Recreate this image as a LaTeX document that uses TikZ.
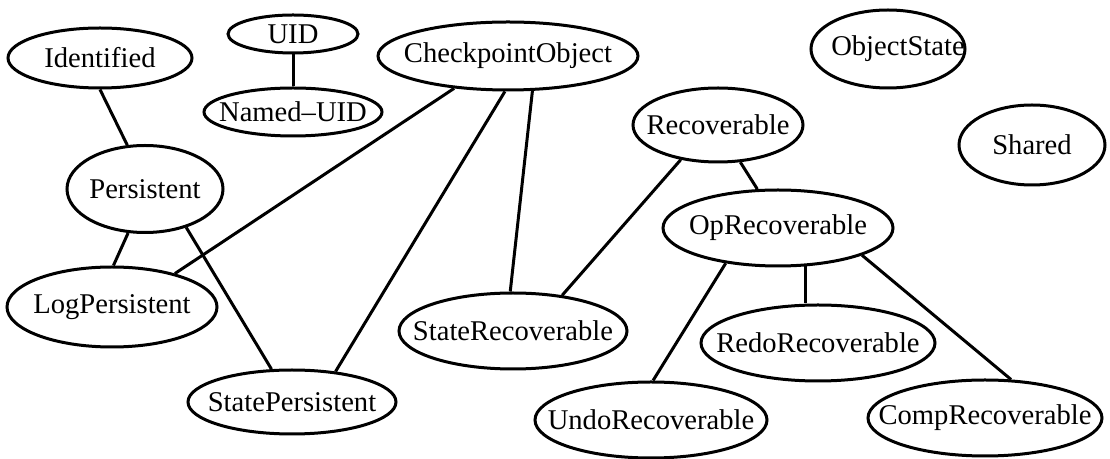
\documentclass[tikz,border=0pt]{standalone}
\usepackage{fontspec}
\setmainfont{Liberation Serif}
\usetikzlibrary{shapes.geometric}
\newcommand{\lbl}[1]{\makebox[0pt]{#1}}
\tikzset{
  cls/.style 2 args={ellipse, draw, line width=1.5pt, inner sep=0pt,
    minimum width=#1*0.5pt, minimum height=#2*0.5pt,
    font=\fontsize{14.3}{16}\selectfont},
  link/.style={line width=1.5pt}
}
\begin{document}
\begin{tikzpicture}[x=0.5pt, y=-0.5pt]
\useasboundingbox (0,0) rectangle (1110,459);
% classes
\node[cls={184}{60}]  (ident)  at (100,58)  {\lbl{Identified}};
\node[cls={130}{38}]  (uid)    at (293,34)  {\lbl{UID}};
\node[cls={178}{48}]  (nuid)   at (293,112) {\lbl{Named--UID}};
\node[cls={260}{68}]  (ckpt)   at (508,56)  {\lbl{CheckpointObject}};
\node[cls={154}{78}]  (ostate) at (888,49)  {\lbl{\hspace*{10pt}ObjectState}};
\node[cls={146}{80}]  (shared) at (1032,145) {\lbl{Shared}};
\node[cls={156}{87}]  (pers)   at (145,189) {\lbl{Persistent}};
\node[cls={210}{80}]  (logp)   at (112,307) {\lbl{LogPersistent}};
\node[cls={208}{64}]  (statep) at (292,402) {\lbl{StatePersistent}};
\node[cls={170}{74}]  (rec)    at (718,125) {\lbl{Recoverable}};
\node[cls={230}{76}]  (oprec)  at (778,228) {\lbl{OpRecoverable}};
\node[cls={228}{76}]  (staterec) at (513,331) {\lbl{StateRecoverable}};
\node[cls={234}{76}]  (redo)   at (818,343) {\lbl{RedoRecoverable}};
\node[cls={232}{76}]  (undo)   at (651,420) {\lbl{UndoRecoverable}};
\node[cls={234}{76}]  (comp)   at (985,418) {\lbl{CompRecoverable}};
% relations
\draw[link] (uid.south) -- (nuid.north);
\draw[link] (ident.-90) -- (pers.112);
\draw[link] (ckpt.-149.6) -- (logp.28.4);
\draw[link] (ckpt.-95) -- (statep.35.3);
\draw[link] (ckpt.-55.9) -- (staterec.94.5);
\draw[link] (pers.-111.3) -- (logp.88.5);
\draw[link] (pers.-43.9) -- (statep.122.3);
\draw[link] (rec.-137.2) -- (staterec.36.3);
\draw[link] (rec.-59.9) -- (oprec.118.9);
\draw[link] (oprec.-146.1) -- (undo.87);
\draw[link] (oprec.-54.6) -- (oprec.-54.6 |- redo.north);
\draw[link] (oprec.-18.8) -- (comp.56.7);
\end{tikzpicture}
\end{document}
